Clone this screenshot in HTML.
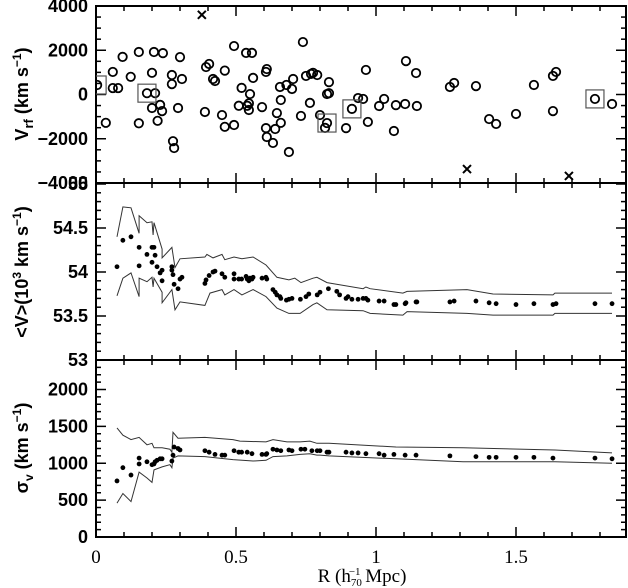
<!DOCTYPE html>
<html><head><meta charset="utf-8"><style>
body{margin:0;background:#fff}
svg{display:block}
.yl{font-family:"Liberation Sans",sans-serif;font-size:18px;font-weight:bold}
.xl{font-family:"Liberation Serif",serif;font-size:19px}
</style></head><body>
<svg id="c" width="628" height="588" viewBox="0 0 628 588" xmlns="http://www.w3.org/2000/svg">
<defs><clipPath id="clipTop"><rect x="96" y="6" width="530" height="177"/></clipPath></defs>
</svg>
<script>
// ---- data ----
const galR = [0.004,0.035,0.06,0.06,0.079,0.095,0.124,0.153,0.153,0.182,0.2,0.207,0.211,0.2,0.229,0.236,0.22,0.239,0.271,0.271,0.275,0.279,0.293,0.3,0.307,0.389,0.393,0.404,0.418,0.425,0.45,0.46,0.46,0.493,0.493,0.51,0.52,0.536,0.557,0.54,0.546,0.546,0.55,0.561,0.593,0.607,0.607,0.61,0.61,0.632,0.64,0.646,0.66,0.66,0.657,0.68,0.689,0.7,0.704,0.732,0.739,0.75,0.768,0.775,0.79,0.764,0.80,0.818,0.825,0.825,0.832,0.832,0.893,0.914,0.936,0.954,0.964,0.971,1.011,1.029,1.064,1.071,1.104,1.107,1.143,1.146,1.264,1.279,1.357,1.404,1.429,1.5,1.564,1.632,1.643,1.632,1.782,1.843];
const galV = [430,-1280,1020,290,290,1700,800,1920,-1300,60,980,1920,60,-610,-470,-750,-1190,1870,880,470,-2110,-2420,-610,1690,700,-790,1240,1380,700,610,-930,1080,-1460,2190,-1380,-510,300,1880,1880,-510,-400,-700,20,750,-570,-1520,1020,1150,-1920,-2190,-1560,-840,-250,-1280,340,430,-2600,250,700,-970,2370,840,930,980,880,-380,-930,-1510,-1290,20,60,560,-1520,-650,-160,-200,1110,-1240,-520,-200,-1650,-480,-430,1510,970,-520,340,520,380,-1110,-1330,-880,430,840,1020,-750,-200,-430];
const outR = [0.378,1.325,1.689];
const outV = [3600,-3370,-3680];
const boxR = [0.004,0.182,0.825,0.914,1.782];
const boxV = [430,60,-1290,-650,-200];

const meanR = [0.075,0.096,0.125,0.154,0.154,0.182,0.2,0.207,0.2,0.211,0.218,0.229,0.236,0.236,0.271,0.271,0.275,0.279,0.293,0.3,0.307,0.389,0.393,0.404,0.418,0.425,0.45,0.46,0.493,0.493,0.51,0.52,0.536,0.54,0.546,0.55,0.557,0.561,0.593,0.607,0.61,0.632,0.64,0.646,0.657,0.66,0.68,0.689,0.7,0.73,0.75,0.76,0.79,0.80,0.83,0.86,0.87,0.9,0.893,0.914,0.936,0.954,0.964,0.971,1.011,1.029,1.064,1.071,1.104,1.107,1.143,1.146,1.264,1.279,1.357,1.404,1.429,1.5,1.564,1.632,1.643,1.782,1.843];
const meanV = [54.06,54.36,54.40,54.28,54.07,54.2,54.28,54.28,54.11,54.19,54.06,53.99,54.02,53.9,54.06,54.02,53.97,53.86,53.81,53.92,53.94,53.87,53.91,53.96,54.0,54.01,53.98,53.94,53.98,53.92,53.92,53.92,53.95,53.92,53.9,53.93,53.92,53.94,53.93,53.94,53.92,53.8,53.77,53.74,53.72,53.7,53.68,53.69,53.7,53.69,53.72,53.75,53.74,53.77,53.81,53.78,53.74,53.72,53.70,53.69,53.69,53.7,53.7,53.68,53.67,53.67,53.63,53.63,53.64,53.65,53.66,53.66,53.66,53.67,53.67,53.65,53.64,53.63,53.64,53.63,53.64,53.64,53.64];
const meanUpR = [0.075,0.096,0.125,0.154,0.154,0.182,0.2,0.204,0.207,0.236,0.236,0.271,0.282,0.3,0.389,0.396,0.418,0.45,0.46,0.493,0.521,0.561,0.607,0.646,0.689,0.71,0.732,0.775,0.789,0.825,0.954,0.964,0.979,1.096,1.111,1.325,1.418,1.632,1.639,1.843];
const meanUpV = [54.4,54.74,54.73,54.44,54.64,54.56,54.57,54.42,54.56,54.26,54.16,54.28,54.05,54.15,54.17,54.2,54.16,54.2,54.14,54.17,54.15,54.17,54.08,53.94,53.91,53.93,53.88,53.93,53.94,53.88,53.81,53.83,53.81,53.76,53.78,53.8,53.75,53.74,53.76,53.76];
const meanLoR = [0.075,0.096,0.125,0.154,0.154,0.182,0.2,0.204,0.207,0.236,0.236,0.271,0.282,0.3,0.389,0.407,0.45,0.46,0.493,0.521,0.561,0.607,0.646,0.689,0.729,0.775,0.789,0.825,0.954,0.979,1.096,1.111,1.325,1.418,1.632,1.639,1.843];
const meanLoV = [53.73,53.93,53.99,53.72,53.93,53.89,53.94,53.83,53.93,53.77,53.65,53.8,53.57,53.66,53.62,53.76,53.8,53.74,53.8,53.74,53.8,53.72,53.59,53.53,53.53,53.63,53.65,53.57,53.56,53.53,53.51,53.55,53.53,53.51,53.51,53.53,53.53];

const sigR = [0.075,0.096,0.125,0.154,0.154,0.182,0.2,0.207,0.211,0.218,0.229,0.236,0.271,0.275,0.279,0.293,0.3,0.389,0.404,0.425,0.45,0.46,0.493,0.51,0.52,0.54,0.557,0.593,0.607,0.61,0.632,0.646,0.66,0.689,0.7,0.732,0.746,0.771,0.79,0.80,0.825,0.832,0.893,0.914,0.936,0.964,1.011,1.029,1.064,1.104,1.143,1.264,1.357,1.404,1.429,1.5,1.564,1.632,1.782,1.843];
const sigV = [760,940,840,1070,990,1020,980,990,1020,1040,1060,1060,1030,1110,1220,1200,1180,1170,1150,1120,1110,1110,1170,1150,1150,1150,1130,1120,1120,1130,1190,1180,1170,1180,1170,1190,1190,1170,1170,1170,1150,1150,1150,1140,1140,1130,1130,1110,1120,1110,1110,1100,1090,1080,1080,1080,1080,1070,1070,1060];
const sigUpR = [0.075,0.096,0.125,0.154,0.182,0.2,0.207,0.236,0.264,0.271,0.275,0.293,0.389,0.489,0.514,0.607,0.632,0.682,0.729,0.764,0.789,0.8,0.832,1.071,1.311,1.639,1.843];
const sigUpV = [1480,1380,1320,1350,1250,1270,1210,1210,1190,1150,1420,1340,1350,1320,1300,1290,1320,1290,1290,1300,1270,1270,1270,1220,1210,1180,1140];
const sigLoR = [0.075,0.096,0.125,0.154,0.182,0.2,0.207,0.236,0.264,0.271,0.275,0.293,0.389,0.489,0.561,0.607,0.632,0.682,0.729,0.764,0.789,0.8,0.832,1.071,1.311,1.639,1.843];
const sigLoV = [460,590,480,880,800,740,910,950,980,940,1070,1100,1090,1050,1030,1040,1090,1100,1120,1130,1110,1110,1100,1060,1020,1020,1000];

// ---- axes ----
const L=96, Rt=626;
const X = r => L + r*280;
const Ytop = v => 94.5 - v*177/8000;
const Ymid = v => 272 - (v-54)*88;
const Ybot = s => 537 - s*177/2400;

const svg=document.getElementById('c');
const NS='http://www.w3.org/2000/svg';
function mk(tag,attrs,parent){const e=document.createElementNS(NS,tag);for(const k in attrs)e.setAttribute(k,attrs[k]);(parent||svg).appendChild(e);return e;}

const panels=[{top:6,bot:183,name:'top'},{top:183,bot:360,name:'middle'},{top:360,bot:537,name:'bottom'}];
panels.forEach(p=>{
  const f=mk('rect',{x:L,y:p.top,width:Rt-L,height:p.bot-p.top,fill:'none',stroke:'#000','stroke-width':2});
  
  
  for(let i=1;i<19;i++){
    const x=X(i*0.1); const len=(i%5===0)?10:5;
    mk('line',{x1:x,y1:p.bot,x2:x,y2:p.bot-len,stroke:'#000','stroke-width':1.5});
    mk('line',{x1:x,y1:p.top,x2:x,y2:p.top+len,stroke:'#000','stroke-width':1.5});
  }
});
function yTicks(fn,from,to,step,majorEvery){
  let n=0;
  for(let v=from; v<=to+1e-9; v+=step, n++){
    const y=fn(v); const len=(n%majorEvery===0)?10:5;
    mk('line',{x1:L,y1:y,x2:L+len,y2:y,stroke:'#000','stroke-width':1.5});
    mk('line',{x1:Rt,y1:y,x2:Rt-len,y2:y,stroke:'#000','stroke-width':1.5});
  }
}
yTicks(Ytop,-4000,4000,500,4);
yTicks(Ymid,53,55,0.1,5);
yTicks(Ybot,0,2400,100,5);

const topTicks=[4000,2000,0,-2000,-4000];
const topTickLabels=['4000','2000','0','\u22122000','\u22124000'];
const midTicks=[55,54.5,54,53.5,53];
const midTickLabels=['55','54.5','54','53.5','53'];
const botTicks=[2000,1500,1000,500,0];
const botTickLabels=['2000','1500','1000','500','0'];
const xTicks=[0,0.5,1,1.5];
const xTickLabels=['0','0.5','1','1.5'];
function ylabels(fn,vals,labs,nm){
  vals.forEach((v,i)=>{const t=mk('text',{x:88,y:fn(v)+6,'text-anchor':'end',class:'yl'});t.textContent=labs[i];
    
    });
}
ylabels(Ytop,topTicks,topTickLabels,'top');
ylabels(Ymid,midTicks,midTickLabels,'middle');
ylabels(Ybot,botTicks,botTickLabels,'bottom');
xTicks.forEach((v,i)=>{const t=mk('text',{x:X(v),y:563,'text-anchor':'middle',class:'xl'});t.textContent=xTickLabels[i];
  
  });

const gTop=mk('g',{'clip-path':'url(#clipTop)'});


galR.forEach((r,i)=>{const c=mk('circle',{cx:X(r),cy:Ytop(galV[i]),r:4.2,fill:'none',stroke:'#000','stroke-width':1.8},gTop);
  
  });
boxR.forEach((r,i)=>{const b=mk('rect',{x:X(r)-9,y:Ytop(boxV[i])-9,width:18,height:18,fill:'none',stroke:'#555','stroke-width':1.2},gTop);
  
  });
outR.forEach((r,i)=>{const x=X(r),y=Ytop(outV[i]);
  const p=mk('path',{d:`M${x-4},${y-4}L${x+4},${y+4}M${x-4},${y+4}L${x+4},${y-4}`,stroke:'#000','stroke-width':2},gTop);
  
  });

function line(rs,vs,fn,nm){
  const d=rs.map((r,i)=>(i?'L':'M')+X(r).toFixed(1)+','+fn(vs[i]).toFixed(1)).join('');
  const p=mk('path',{d:d,fill:'none',stroke:'#333','stroke-width':1});
  
  
}
function dots(rs,vs,fn,nm){
  rs.forEach((r,i)=>{const c=mk('circle',{cx:X(r),cy:fn(vs[i]),r:2.4,fill:'#000'});
    
    });
}
line(meanUpR,meanUpV,Ymid,'mean-upper-envelope');
line(meanLoR,meanLoV,Ymid,'mean-lower-envelope');
dots(meanR,meanV,Ymid,'mean-velocity-point');
line(sigUpR,sigUpV,Ybot,'sigma-upper-envelope');
line(sigLoR,sigLoV,Ybot,'sigma-lower-envelope');
dots(sigR,sigV,Ybot,'sigma-point');

function ytitle(cy,html,nm){
  const t=mk('text',{transform:`translate(28,${cy}) rotate(-90)`,'text-anchor':'middle',class:'yl'});
  t.innerHTML=html;
  
  
}
ytitle(94,'V<tspan font-size="13" dy="5">rf</tspan><tspan dy="-5"> (km s</tspan><tspan font-size="12" dy="-7">\u22121</tspan><tspan dy="7">)</tspan>','top-y-axis-title');
ytitle(272,'&lt;V&gt;(10<tspan font-size="12" dy="-7">3</tspan><tspan dy="7"> km s</tspan><tspan font-size="12" dy="-7">\u22121</tspan><tspan dy="7">)</tspan>','middle-y-axis-title');
ytitle(448,'\u03c3<tspan font-size="12" dy="5">v</tspan><tspan dy="-5">   (km s</tspan><tspan font-size="12" dy="-7">\u22121</tspan><tspan dy="7">)</tspan>','bottom-y-axis-title');
const xt=mk('text',{x:362,y:582,'text-anchor':'middle',class:'xl'});
xt.innerHTML='R (h<tspan font-size="11" dy="4">70</tspan><tspan font-size="11" dx="-13" dy="-11">\u22121</tspan><tspan dy="7"> Mpc)</tspan>';


</script>
</body></html>
